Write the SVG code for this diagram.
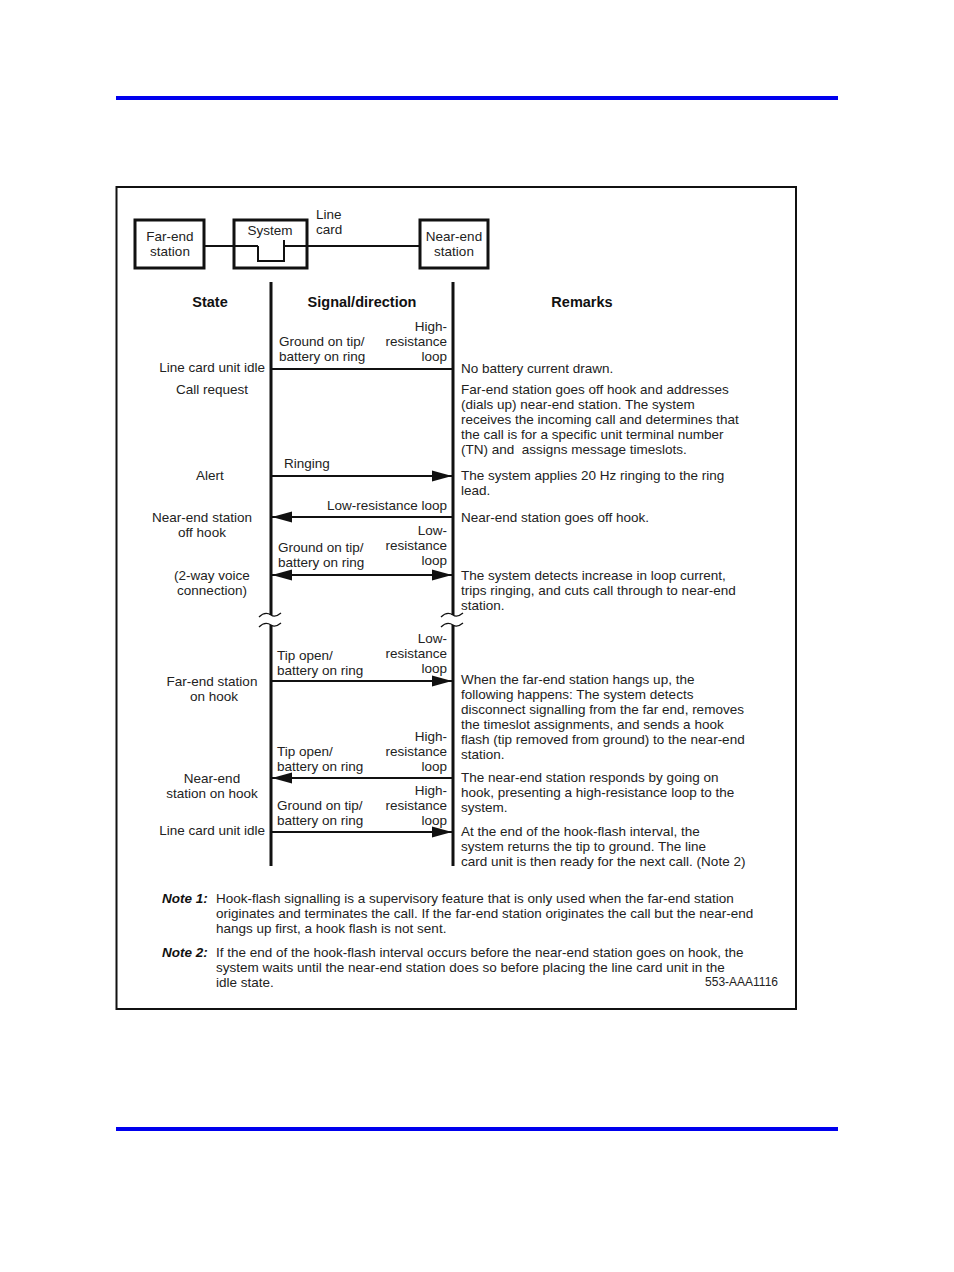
<svg xmlns="http://www.w3.org/2000/svg" width="954" height="1272" viewBox="0 0 954 1272">
<style>
text{font-family:"Liberation Sans",Arial,sans-serif;font-size:13.5px;fill:#222}
.c{text-anchor:middle}
.r{text-anchor:end}
.h{font-size:14.5px;font-weight:bold;fill:#111}
.n{font-weight:bold;font-style:italic;fill:#111}
.box{fill:none;stroke:#111;stroke-width:3}
.vl{stroke:#111;stroke-width:3;fill:none}
.ar{stroke:#111;stroke-width:2;fill:none}
.brk{stroke:#111;stroke-width:1.3;fill:none}
.rule{stroke:#0000ee;stroke-width:4}
</style>
<defs>
<marker id="ah" markerUnits="userSpaceOnUse" markerWidth="20" markerHeight="12" refX="20" refY="6" orient="auto-start-reverse" viewBox="0 0 20 12">
<path d="M0,0.5 L20,6 L0,11.5 z" fill="#111"/>
</marker>
</defs>
<rect width="954" height="1272" fill="#fff"/>
<line class="rule" x1="116" y1="98" x2="838" y2="98"/>
<line class="rule" x1="116" y1="1129" x2="838" y2="1129"/>
<rect x="116.5" y="187" width="679.5" height="822" fill="none" stroke="#111" stroke-width="2"/>

<g id="far-end-station">
<rect class="box" x="135" y="220" width="69" height="48"/>
<text class="c" x="170" y="241">Far-end</text>
<text class="c" x="170" y="256">station</text>
</g>
<g id="system">
<rect class="box" x="234" y="220" width="73" height="48"/>
<text class="c" x="270" y="235">System</text>
<path d="M258,246 V261 H284 V240" fill="none" stroke="#111" stroke-width="2"/>
</g>
<g id="line-card-label">
<text x="316" y="219">Line</text>
<text x="316" y="234">card</text>
</g>
<g id="near-end-station">
<rect class="box" x="420" y="220" width="68" height="48"/>
<text class="c" x="454" y="241">Near-end</text>
<text class="c" x="454" y="256">station</text>
</g>

<g id="headers">
<text class="h c" x="210" y="307">State</text>
<text class="h c" x="362" y="307">Signal/direction</text>
<text class="h c" x="582" y="307">Remarks</text>
</g>

<g id="connectors">
<path class="ar" d="M204,246 H258"/>
<path class="ar" d="M284,246 H420"/>
<path class="vl" d="M271,282 V615 M271,625 V866"/>
<path class="vl" d="M453,282 V615 M453,625 V866"/>
<path class="brk" d="M259,617 Q265,611 271,615 Q275,618 281,613"/>
<path class="brk" d="M259,627 Q265,621 271,625 Q275,628 281,623"/>
<path class="brk" d="M441,617 Q447,611 453,615 Q457,618 463,613"/>
<path class="brk" d="M441,627 Q447,621 453,625 Q457,628 463,623"/>
<line class="ar" x1="271" y1="369" x2="453" y2="369"/>
<line class="ar" x1="272" y1="476" x2="452" y2="476" marker-end="url(#ah)"/>
<line class="ar" x1="452" y1="517" x2="272" y2="517" marker-end="url(#ah)"/>
<line class="ar" x1="272" y1="575" x2="452" y2="575" marker-start="url(#ah)" marker-end="url(#ah)"/>
<line class="ar" x1="272" y1="681" x2="452" y2="681" marker-end="url(#ah)"/>
<line class="ar" x1="452" y1="778" x2="272" y2="778" marker-end="url(#ah)"/>
<line class="ar" x1="272" y1="832" x2="452" y2="832" marker-end="url(#ah)"/>
</g>

<g id="signal-labels">
<text x="279" y="346">Ground on tip/</text>
<text x="279" y="361">battery on ring</text>
<text class="r" x="447" y="331">High-</text>
<text class="r" x="447" y="346">resistance</text>
<text class="r" x="447" y="361">loop</text>
<text x="284" y="468">Ringing</text>
<text class="r" x="447" y="510">Low-resistance loop</text>
<text class="r" x="447" y="535">Low-</text>
<text class="r" x="447" y="550">resistance</text>
<text class="r" x="447" y="565">loop</text>
<text x="278" y="552">Ground on tip/</text>
<text x="278" y="567">battery on ring</text>
<text class="r" x="447" y="643">Low-</text>
<text class="r" x="447" y="658">resistance</text>
<text class="r" x="447" y="673">loop</text>
<text x="277" y="660">Tip open/</text>
<text x="277" y="675">battery on ring</text>
<text class="r" x="447" y="741">High-</text>
<text class="r" x="447" y="756">resistance</text>
<text class="r" x="447" y="771">loop</text>
<text x="277" y="756">Tip open/</text>
<text x="277" y="771">battery on ring</text>
<text class="r" x="447" y="795">High-</text>
<text class="r" x="447" y="810">resistance</text>
<text class="r" x="447" y="825">loop</text>
<text x="277" y="810">Ground on tip/</text>
<text x="277" y="825">battery on ring</text>
</g>

<g id="state-labels">
<text class="r" x="265" y="372">Line card unit idle</text>
<text class="c" x="212" y="394">Call request</text>
<text class="c" x="210" y="480">Alert</text>
<text class="c" x="202" y="522">Near-end station</text>
<text class="c" x="202" y="537">off hook</text>
<text class="c" x="212" y="580">(2-way voice</text>
<text class="c" x="212" y="595">connection)</text>
<text class="c" x="212" y="686">Far-end station</text>
<text class="c" x="214" y="701">on hook</text>
<text class="c" x="212" y="783">Near-end</text>
<text class="c" x="212" y="798">station on hook</text>
<text class="r" x="265" y="835">Line card unit idle</text>
</g>

<g id="remarks">
<text x="461" y="373">No battery current drawn.</text>
<text x="461" y="394">Far-end station goes off hook and addresses</text>
<text x="461" y="409">(dials up) near-end station. The system</text>
<text x="461" y="424">receives the incoming call and determines that</text>
<text x="461" y="439">the call is for a specific unit terminal number</text>
<text x="461" y="454" xml:space="preserve">(TN) and  assigns message timeslots.</text>
<text x="461" y="480">The system applies 20 Hz ringing to the ring</text>
<text x="461" y="495">lead.</text>
<text x="461" y="522">Near-end station goes off hook.</text>
<text x="461" y="580">The system detects increase in loop current,</text>
<text x="461" y="595">trips ringing, and cuts call through to near-end</text>
<text x="461" y="610">station.</text>
<text x="461" y="684">When the far-end station hangs up, the</text>
<text x="461" y="699">following happens: The system detects</text>
<text x="461" y="714">disconnect signalling from the far end, removes</text>
<text x="461" y="729">the timeslot assignments, and sends a hook</text>
<text x="461" y="744">flash (tip removed from ground) to the near-end</text>
<text x="461" y="759">station.</text>
<text x="461" y="782">The near-end station responds by going on</text>
<text x="461" y="797">hook, presenting a high-resistance loop to the</text>
<text x="461" y="812">system.</text>
<text x="461" y="836">At the end of the hook-flash interval, the</text>
<text x="461" y="851">system returns the tip to ground. The line</text>
<text x="461" y="866">card unit is then ready for the next call. (Note 2)</text>
</g>

<g id="notes">
<text class="n" x="162" y="903">Note 1:</text>
<text x="216" y="903">Hook-flash signalling is a supervisory feature that is only used when the far-end station</text>
<text x="216" y="918">originates and terminates the call. If the far-end station originates the call but the near-end</text>
<text x="216" y="933">hangs up first, a hook flash is not sent.</text>
<text class="n" x="162" y="957">Note 2:</text>
<text x="216" y="957">If the end of the hook-flash interval occurs before the near-end station goes on hook, the</text>
<text x="216" y="972">system waits until the near-end station does so before placing the line card unit in the</text>
<text x="216" y="987">idle state.</text>
<text class="r" x="778" y="986" style="font-size:12px">553-AAA1116</text>
</g>
</svg>
